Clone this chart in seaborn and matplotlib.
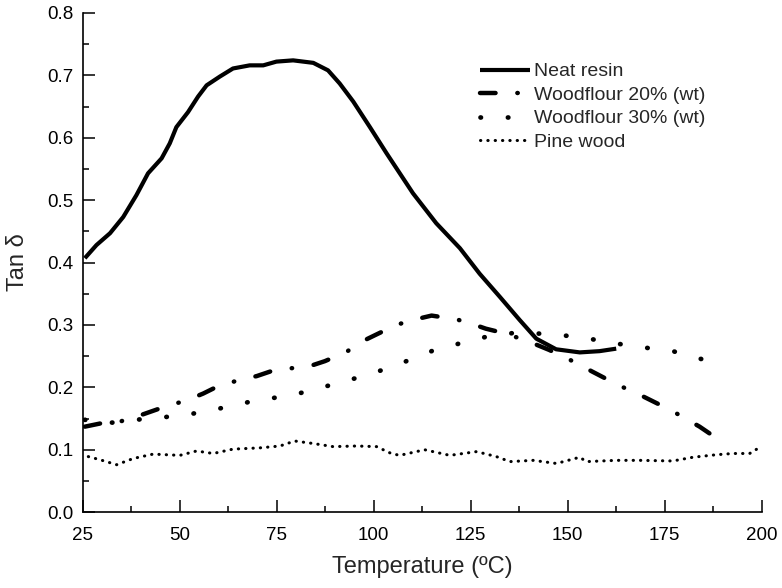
import matplotlib
matplotlib.use("Agg")
import matplotlib.pyplot as plt
import seaborn as sns
from matplotlib.ticker import MultipleLocator, FormatStrFormatter

# Data (temperature in C, tan delta)
neat_t = [25.5, 28.5, 32.0, 35.4, 38.8, 41.8, 45.3, 47.4, 49.1, 52.1, 54.7, 56.9, 60.3,
          63.7, 68.0, 71.5, 74.9, 79.2, 84.4, 88.2, 91.2, 94.7, 99.0, 103.3, 108.4,
          110.1, 116.1, 122.2, 127.3, 132.5, 137.6, 141.9, 147.0, 153.1, 158.2, 162.5]
neat_v = [0.407, 0.428, 0.447, 0.473, 0.508, 0.543, 0.567, 0.591, 0.617, 0.641, 0.666,
          0.684, 0.698, 0.711, 0.716, 0.716, 0.722, 0.724, 0.720, 0.708, 0.687, 0.658,
          0.617, 0.575, 0.527, 0.511, 0.463, 0.423, 0.382, 0.345, 0.308, 0.278, 0.261,
          0.256, 0.258, 0.262]

wf20_t = [25.5, 29.4, 34.5, 39.7, 46.6, 51.7, 56.0, 59.9, 65.5, 69.8, 73.6, 79.2, 83.5,
          87.4, 93.0, 96.8, 101.1, 105.8, 110.1, 114.9, 121.3, 124.7, 128.9, 134.1,
          140.1, 145.2, 150.0, 156.4, 162.9, 168.6, 176.7, 184.0, 186.6, 190.5]
wf20_v = [0.137, 0.142, 0.145, 0.155, 0.170, 0.179, 0.190, 0.202, 0.212, 0.218, 0.226,
          0.231, 0.234, 0.242, 0.257, 0.273, 0.286, 0.300, 0.308, 0.315, 0.309, 0.303,
          0.294, 0.286, 0.273, 0.260, 0.246, 0.225, 0.204, 0.188, 0.163, 0.137, 0.126,
          0.110]

wf30_t = [25.5, 30.0, 35.0, 41.0, 47.4, 52.6, 59.5, 65.0, 71.5, 77.9, 84.4, 90.8, 97.3,
          103.3, 109.7, 116.1, 122.6, 129.0, 135.9, 143.6, 150.9, 157.4, 163.8, 170.7,
          177.1, 184.0, 190.5]
wf30_v = [0.148, 0.143, 0.144, 0.150, 0.153, 0.157, 0.165, 0.173, 0.181, 0.186, 0.196,
          0.207, 0.218, 0.230, 0.245, 0.261, 0.271, 0.281, 0.287, 0.286, 0.282, 0.276,
          0.269, 0.263, 0.258, 0.246, 0.237]

pine_t = [26.4, 29.4, 33.7, 38.0, 43.1, 50.0, 54.3, 58.6, 63.7, 70.6, 75.8, 79.6, 84.4,
          89.5, 95.5, 100.7, 104.5, 106.7, 113.1, 119.6, 126.5, 131.6, 135.1, 141.1,
          147.1, 153.1, 154.8, 162.5, 168.6, 177.1, 182.3, 188.3, 192.6, 196.9, 199.0]
pine_v = [0.089, 0.084, 0.076, 0.086, 0.093, 0.091, 0.098, 0.094, 0.101, 0.103, 0.106,
          0.114, 0.110, 0.105, 0.106, 0.105, 0.094, 0.091, 0.100, 0.091, 0.097, 0.089,
          0.081, 0.083, 0.078, 0.088, 0.081, 0.083, 0.083, 0.082, 0.088, 0.092, 0.094,
          0.094, 0.102]

labels = ["Neat resin", "Woodflour 20% (wt)", "Woodflour 30% (wt)", "Pine wood"]

sns.set_style("ticks")
plt.rcParams['font.family'] = ['Liberation Sans', 'DejaVu Sans']

fig, ax = plt.subplots(figsize=(7.82, 5.88), dpi=100)
fig.subplots_adjust(left=0.106, right=0.974, top=0.978, bottom=0.129)

sns.lineplot(x=neat_t, y=neat_v, ax=ax, color='black', label=labels[0])
sns.lineplot(x=wf20_t, y=wf20_v, ax=ax, color='black', label=labels[1])
sns.lineplot(x=wf30_t, y=wf30_v, ax=ax, color='black', label=labels[2])
sns.lineplot(x=pine_t, y=pine_v, ax=ax, color='black', label=labels[3])

# line styles
ax.lines[0].set_linewidth(3)
ax.lines[1].set_linewidth(3.2)
ax.lines[1].set_dashes([3.5, 4.9, 0.1, 4.9])
ax.lines[2].set_linewidth(3.4)
ax.lines[2].set_dashes([0.1, 5.7])
ax.lines[3].set_linewidth(2.2)
ax.lines[3].set_dashes([0.1, 2.3])
for ln in ax.lines:
    ln.set_dash_capstyle('round')
    ln.set_solid_capstyle('butt')
    ln.set_solid_joinstyle('round')

ax.set_xlim(25, 200)
ax.set_ylim(0, 0.8)
ax.xaxis.set_major_locator(MultipleLocator(25))
ax.xaxis.set_minor_locator(MultipleLocator(12.5))
ax.yaxis.set_major_locator(MultipleLocator(0.1))
ax.yaxis.set_minor_locator(MultipleLocator(0.05))
ax.yaxis.set_major_formatter(FormatStrFormatter('%.1f'))

ax.tick_params(which='major', direction='in', length=8.5, width=1.1,
               labelsize=13.5, color='black', labelcolor='black')
ax.tick_params(axis='x', which='major', pad=11)
ax.tick_params(axis='y', which='major', pad=7)
ax.tick_params(which='minor', direction='in', length=4, width=1.1, color='black')
sns.despine(ax=ax)
for s in ['left', 'bottom']:
    ax.spines[s].set_linewidth(1.2)
    ax.spines[s].set_color('black')

ax.set_xlabel("Temperature (ºC)", fontsize=17, labelpad=8)
ax.set_ylabel("Tan δ", fontsize=17, labelpad=13)

ax.legend(loc='upper left', bbox_to_anchor=(0.585, 0.90), frameon=False,
          fontsize=14, handlelength=2.55, handletextpad=0.25, labelspacing=0.3,
          borderpad=0, borderaxespad=0)

fig.savefig("out.png", dpi=100)
